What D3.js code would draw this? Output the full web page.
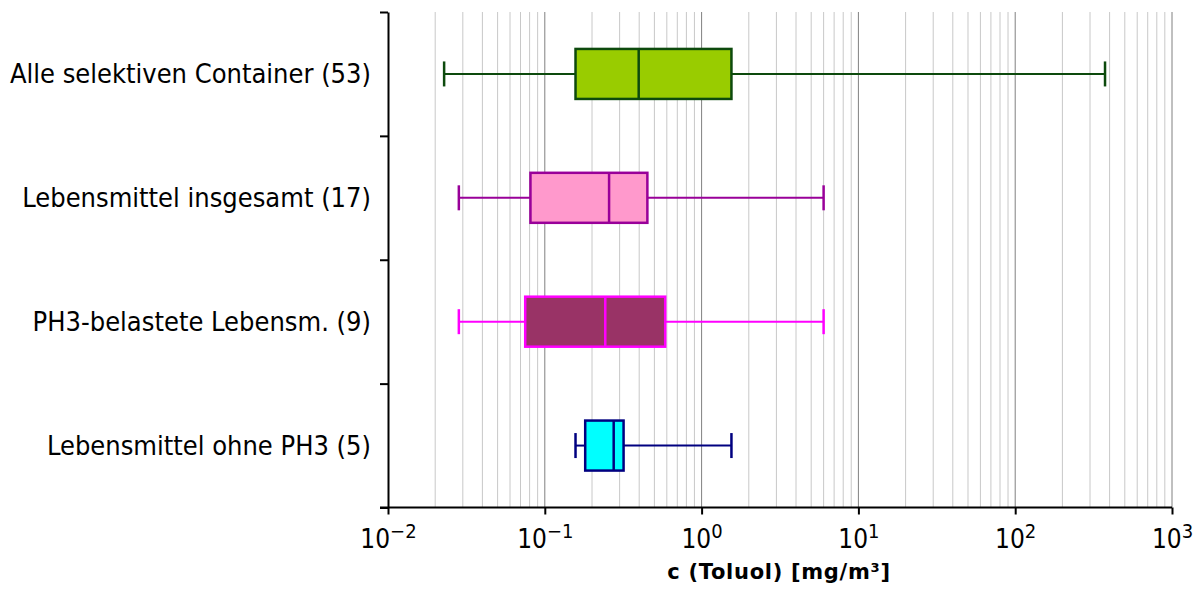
<!DOCTYPE html>
<html>
<head>
<meta charset="utf-8">
<script src="https://cdn.jsdelivr.net/npm/d3@7"></script>
<style>
  html, body { margin: 0; padding: 0; background: #fff; }
  svg { display: block; }
</style>
</head>
<body>
<svg id="chart" width="1201" height="590"></svg>
<script>
// ---- data ----
const categories = [
  "Alle selektiven Container (53)",
  "Lebensmittel insgesamt (17)",
  "PH3-belastete Lebensm. (9)",
  "Lebensmittel ohne PH3 (5)"
];
const whiskerLow  = [0.0228, 0.0283, 0.0283, 0.157];
const q1          = [0.157,  0.081,  0.075,  0.181];
const median      = [0.397,  0.257,  0.243,  0.275];
const q3          = [1.55,   0.451,  0.586,  0.318];
const whiskerHigh = [374,    6.0,    6.0,    1.55];
const fillColors   = ["#99cc00", "#ff99cc", "#993366", "#00ffff"];
const strokeColors = ["#0d4a0d", "#990099", "#ff00ff", "#000080"];
const xTickValues = [0.01, 0.1, 1, 10, 100, 1000];
const xTickExponents = ["\u22122", "\u22121", "0", "1", "2", "3"];
const xTitle = "c (Toluol) [mg/m\u00B3]";

// ---- layout ----
const svg = d3.select("#chart");
const mLeft = 388, mRight = 1172, mTop = 12, mBottom = 507.5;
const font = "'DejaVu Sans Condensed', 'DejaVu Sans', sans-serif";

const x = d3.scaleLog().domain([0.01, 1000]).range([mLeft, mRight]);
const y = d3.scaleLinear().domain([0, categories.length]).range([mTop, mBottom]);

// gridlines
const minor = [];
for (let e = -2; e < 3; e++) {
  for (let m = 2; m <= 9; m++) minor.push(m * Math.pow(10, e));
}
svg.append("g").selectAll("line").data(minor).join("line")
  .attr("x1", d => x(d)).attr("x2", d => x(d))
  .attr("y1", mTop).attr("y2", mBottom)
  .attr("stroke", "#c8c8c8").attr("stroke-width", 1);
svg.append("g").selectAll("line").data(xTickValues.slice(1)).join("line")
  .attr("x1", d => x(d)).attr("x2", d => x(d))
  .attr("y1", mTop).attr("y2", mBottom)
  .attr("stroke", "#808080").attr("stroke-width", 1);

// boxes
const bh = 50, capH = 25;
const g = svg.append("g");
categories.forEach((c, i) => {
  const cy = y(i + 0.5);
  const s = strokeColors[i];
  const grp = g.append("g");
  grp.append("line")
    .attr("x1", x(whiskerLow[i])).attr("x2", x(q1[i]))
    .attr("y1", cy).attr("y2", cy).attr("stroke", s).attr("stroke-width", 2);
  grp.append("line")
    .attr("x1", x(q3[i])).attr("x2", x(whiskerHigh[i]))
    .attr("y1", cy).attr("y2", cy).attr("stroke", s).attr("stroke-width", 2);
  [whiskerLow[i], whiskerHigh[i]].forEach(v => {
    grp.append("line")
      .attr("x1", x(v)).attr("x2", x(v))
      .attr("y1", cy - capH / 2).attr("y2", cy + capH / 2)
      .attr("stroke", s).attr("stroke-width", 2.5);
  });
  grp.append("rect")
    .attr("x", x(q1[i])).attr("width", x(q3[i]) - x(q1[i]))
    .attr("y", cy - bh / 2).attr("height", bh)
    .attr("fill", fillColors[i]).attr("stroke", s).attr("stroke-width", 2.5);
  grp.append("line")
    .attr("x1", x(median[i])).attr("x2", x(median[i]))
    .attr("y1", cy - bh / 2).attr("y2", cy + bh / 2)
    .attr("stroke", s).attr("stroke-width", 2.5);
});

// y axis
const yAxis = d3.axisLeft(y).tickValues(d3.range(0, categories.length + 1))
  .tickFormat("").tickSize(8).tickSizeOuter(0);
svg.append("g").attr("transform", `translate(${mLeft},0)`).call(yAxis)
  .call(a => a.selectAll("line").attr("stroke", "#000").attr("stroke-width", 2))
  .call(a => a.select(".domain").attr("stroke", "#000").attr("stroke-width", 2));

// category labels
svg.append("g").selectAll("text").data(categories).join("text")
  .attr("x", 371).attr("y", (d, i) => y(i + 0.5))
  .attr("dy", "0.35em")
  .attr("text-anchor", "end")
  .attr("font-family", font).attr("font-size", 27).attr("fill", "#000")
  .text(d => d);

// x axis
const xAxis = d3.axisBottom(x).tickValues(xTickValues).tickSize(7).tickSizeOuter(0)
  .tickFormat(() => "");
const xa = svg.append("g").attr("transform", `translate(0,${mBottom})`).call(xAxis);
xa.select(".domain").attr("stroke", "#000").attr("stroke-width", 2)
  .attr("d", `M${mLeft - 8},0H${mRight}`);
xa.selectAll(".tick line").attr("stroke", "#000").attr("stroke-width", 2);
xa.selectAll(".tick text").remove();
xa.selectAll(".tick").each(function(d, i) {
  const t = d3.select(this).append("text")
    .attr("y", 40).attr("text-anchor", "middle")
    .attr("font-family", font).attr("font-size", 26).attr("fill", "#000");
  t.append("tspan").text("10");
  t.append("tspan").attr("dy", -10).attr("font-size", 20).text(xTickExponents[i]);
});

// x title
svg.append("text")
  .attr("x", (mLeft + mRight) / 2 - 1).attr("y", 579)
  .attr("text-anchor", "middle")
  .attr("font-family", "'DejaVu Sans', sans-serif").attr("font-size", 21)
  .attr("font-weight", "bold").attr("letter-spacing", 0.7)
  .attr("fill", "#000")
  .text(xTitle);
</script>
</body>
</html>
